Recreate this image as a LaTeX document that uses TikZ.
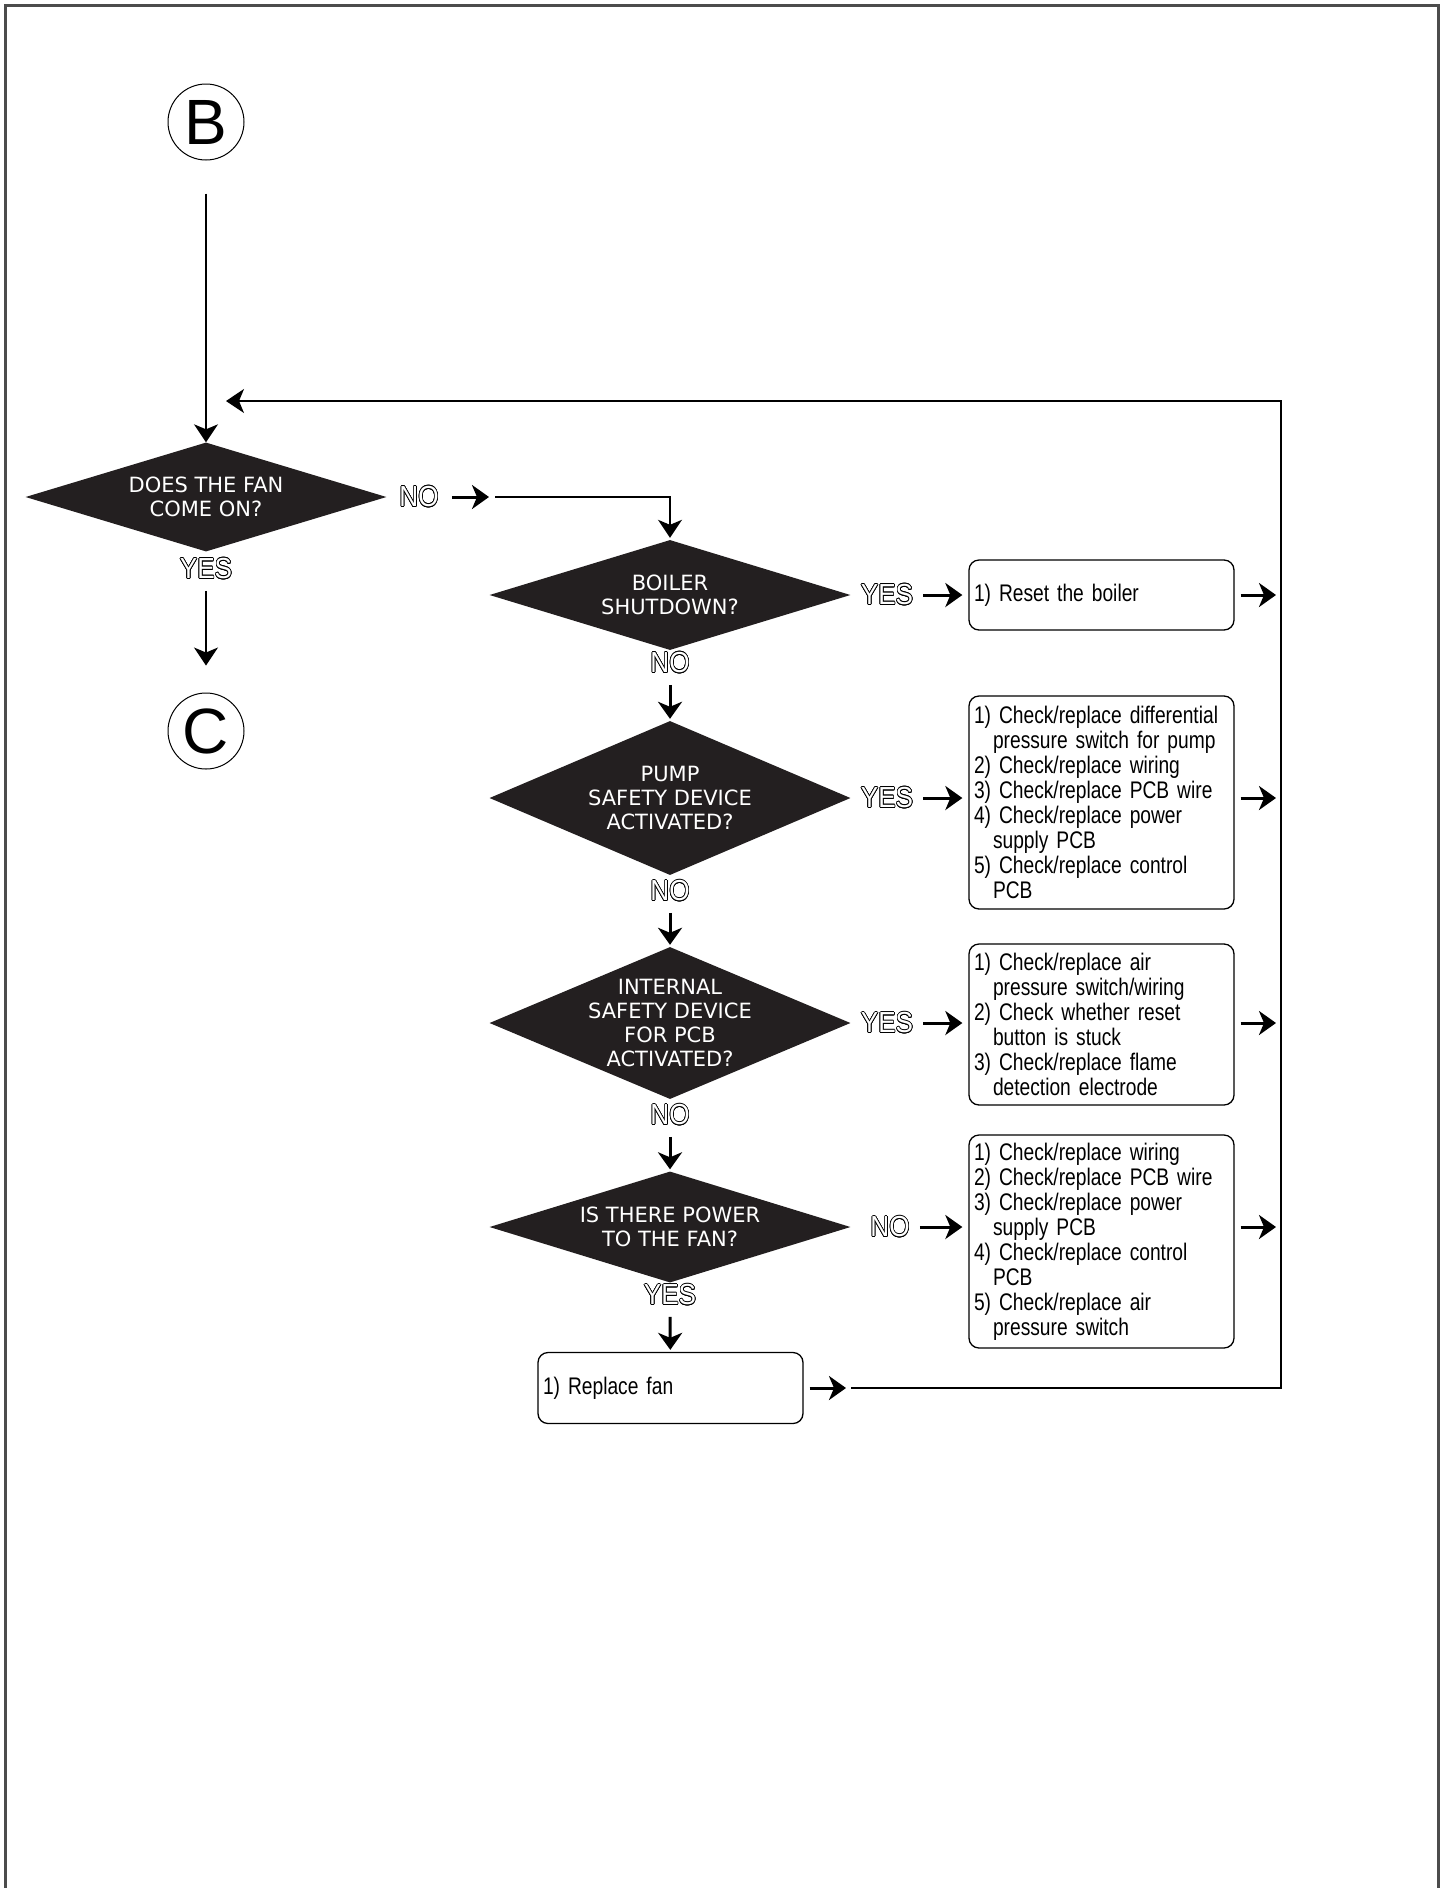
\documentclass[tikz,border=0pt]{standalone}
\usepackage{fontspec}
\setmainfont{Liberation Sans}
\newfontfamily\diafont{DejaVu Sans}
\newfontfamily\boxfont[FakeStretch=0.8]{Liberation Sans}
\newfontfamily\ynfont[FakeStretch=0.9]{Liberation Sans}
\usepackage{contour}
\contourlength{0.7pt}
\usetikzlibrary{shapes.geometric,arrows.meta}
\definecolor{diafill}{RGB}{35,31,32}
\newcommand{\outl}[1]{\contour{black}{#1}}
\newcommand{\ind}{\hspace*{19pt}}

\begin{document}
\begin{tikzpicture}[x=1pt,y=-1pt,
  decision/.style={diamond, fill=diafill, inner sep=0pt, minimum width=361pt, minimum height=#1},
  dtext/.style={text=white, align=center, inner sep=0pt, font=\diafont\fontsize{21}{24}\selectfont},
  action/.style={draw, line width=1.3pt, rounded corners=10pt, minimum width=265pt, minimum height=#1,
    text width=255pt, inner sep=5pt, align=left, font=\boxfont\fontsize{24}{25}\selectfont},
  conn/.style={circle, draw, line width=1pt, minimum size=76pt, inner sep=0pt, font=\fontsize{64}{64}\selectfont},
  yesno/.style={text=white, inner sep=0pt, font=\ynfont\fontsize{29}{29}\selectfont},
  flow/.style={line width=1.2pt, -{Stealth[length=18pt,width=24pt,inset=5pt]}},
  jump/.style={line width=3pt, -{Stealth[length=17pt,width=24pt,inset=5pt]}},
  frame/.style={line width=3pt, draw=black!70}]
  \useasboundingbox (0,0) rectangle (1447,1888);
  % page frame
  \draw[frame] (5,1888) -- (5,5) -- (1438.5,5) -- (1438.5,1888);

  % start and exit
  \node[conn] (B) at (206,122) {B};
  \node[conn] (C) at (206,731) {C};

  % decisions
  \node[decision=109pt] (d1) at (206,497) {};
  \node[dtext] (d1t) at (d1) {DOES THE FAN\\COME ON?};
  \node[decision=110pt] (d2) at (670,595) {};
  \node[dtext] (d2t) at (d2) {BOILER\\SHUTDOWN?};
  \node[decision=154pt] (d3) at (670,798) {};
  \node[dtext] (d3t) at (d3) {PUMP\\SAFETY DEVICE\\ACTIVATED?};
  \node[decision=152pt] (d4) at (670,1023) {};
  \node[dtext] (d4t) at (d4) {INTERNAL\\SAFETY DEVICE\\FOR PCB\\ACTIVATED?};
  \node[decision=111pt] (d5) at (670,1227) {};
  \node[dtext] (d5t) at (d5) {IS THERE POWER\\TO THE FAN?};

  % answers
  \node[yesno] (n1) at (419,497) {\outl{NO}};
  \node[yesno] (y1) at (206,569) {\outl{YES}};
  \node[yesno] (y2) at (887,595) {\outl{YES}};
  \node[yesno] (n2) at (670,663) {\outl{NO}};
  \node[yesno] (y3) at (887,798) {\outl{YES}};
  \node[yesno] (n3) at (670,891) {\outl{NO}};
  \node[yesno] (y4) at (887,1023) {\outl{YES}};
  \node[yesno] (n4) at (670,1115) {\outl{NO}};
  \node[yesno] (n5) at (890,1227) {\outl{NO}};
  \node[yesno] (y5) at (670,1295) {\outl{YES}};

  % actions
  \node[action=70pt] (r1) at (1101.5,595) {1) Reset the boiler};
  \node[action=213pt] (r2) at (1101.5,802.5) {1) Check/replace differential\\
    \ind pressure switch for pump\\
    2) Check/replace wiring\\
    3) Check/replace PCB wire\\
    4) Check/replace power\\
    \ind supply PCB\\
    5) Check/replace control\\
    \ind PCB};
  \node[action=161pt] (r3) at (1101.5,1024.5) {1) Check/replace air\\
    \ind pressure switch/wiring\\
    2) Check whether reset\\
    \ind button is stuck\\
    3) Check/replace flame\\
    \ind detection electrode};
  \node[action=213pt] (r4) at (1101.5,1241.5) {1) Check/replace wiring\\
    2) Check/replace PCB wire\\
    3) Check/replace power\\
    \ind supply PCB\\
    4) Check/replace control\\
    \ind PCB\\
    5) Check/replace air\\
    \ind pressure switch};
  \node[action=71pt] (fan) at (670.5,1388) {1) Replace fan};

  % loop back
  \coordinate (k1) at (489,497);
  \coordinate (lt) at (226,401);
  \coordinate (rt) at (1281,401);
  \coordinate (rb) at (1281,1388);
  \coordinate (fb) at (846,1388);

  \draw[flow, shorten <=33pt] (B) -- (d1);
  \draw[flow, shorten <=11pt, shorten >=27pt] (y1) -- (C);
  \draw[jump, shorten <=13pt] (n1) -- (k1);
  \draw[flow, shorten >=2pt] ([xshift=6pt]k1) -| (d2);

  \draw[jump, shorten <=10pt, shorten >=6pt] (y2) -- (r1);
  \draw[jump, shorten <=10pt, shorten >=6pt] (y3) -- (y3 -| r2.west);
  \draw[jump, shorten <=10pt, shorten >=6pt] (y4) -- (y4 -| r3.west);
  \draw[jump, shorten <=10pt, shorten >=6pt] (n5) -- (n5 -| r4.west);

  \draw[jump, shorten <=11pt, shorten >=2pt] (n2) -- (d3);
  \draw[jump, shorten <=11pt, shorten >=2pt] (n3) -- (d4);
  \draw[jump, shorten <=11pt, shorten >=2pt] (n4) -- (d5);
  \draw[jump, shorten <=11pt, shorten >=2pt] (y5) -- (fan);

  \draw[jump, shorten <=6pt, shorten >=5pt] (r1.east |- d2) -- (rt |- d2);
  \draw[jump, shorten <=6pt, shorten >=5pt] (r2.east |- d3) -- (rt |- d3);
  \draw[jump, shorten <=6pt, shorten >=5pt] (r3.east |- d4) -- (rt |- d4);
  \draw[jump, shorten <=6pt, shorten >=5pt] (r4.east |- d5) -- (rt |- d5);

  \draw[jump, shorten <=6pt] (fan) -- (fb);
  \draw[flow] ([xshift=5pt]fb) -- (rb) -- (rt) -- (lt);
\end{tikzpicture}
\end{document}
